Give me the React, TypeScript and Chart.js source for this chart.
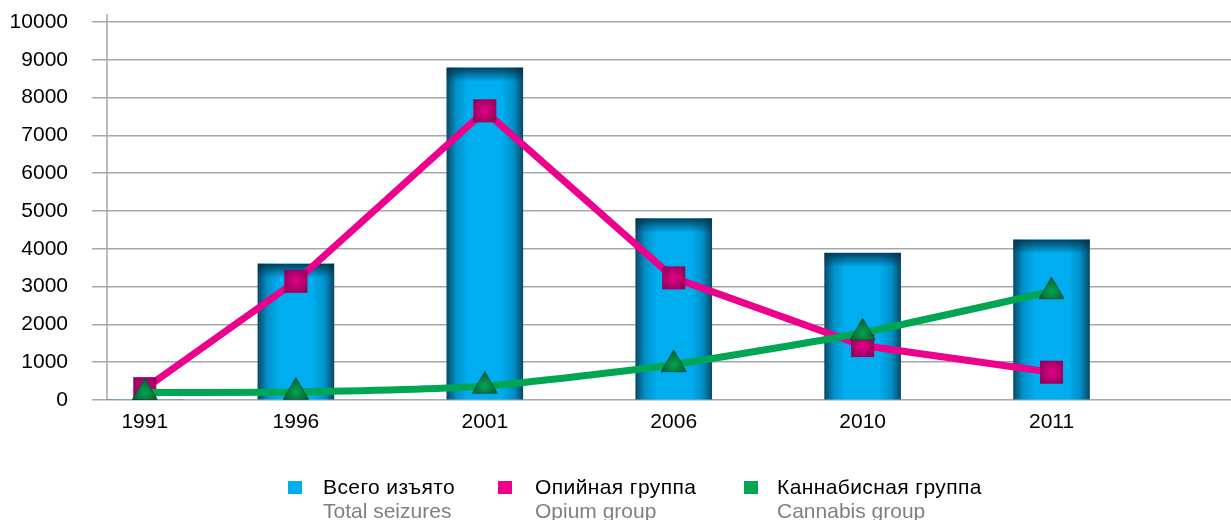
import React, { useEffect, useRef } from "react";
import { Chart, registerables } from "chart.js";

Chart.register(...registerables);

const years = ["1991", "1996", "2001", "2006", "2010", "2011"];
const yearPositions = [0.2, 1, 2, 3, 4, 5];
const totalSeizures = [0, 3600, 8790, 4800, 3890, 4240];
const opiumGroup = [300, 3140, 7650, 3230, 1440, 735];
const cannabisGroup = [200, 210, 370, 940, 1780, 2870];
const yTicks = [0, 1000, 2000, 3000, 4000, 5000, 6000, 7000, 8000, 9000, 10000];

const legendItems = [
  { ru: "Всего изъято", en: "Total seizures", color: "#00aeef" },
  { ru: "Опийная группа", en: "Opium group", color: "#ec008c" },
  { ru: "Каннабисная группа", en: "Cannabis group", color: "#00a651" },
];
const legendSquareLeft = [288, 498, 744];
const legendTextLeft = [323, 535, 777];

const FONT = "'Liberation Sans', Arial, sans-serif";

function pointGradient(ctx: any, inner: string, outer: string, fallback: string) {
  if (!ctx || ctx.type !== "data") return fallback;
  const chart = ctx.chart;
  const sx = chart.scales && chart.scales.x;
  const sy = chart.scales && chart.scales.y;
  if (!sx || !sy || !ctx.parsed) return fallback;
  const px = sx.getPixelForValue(ctx.parsed.x);
  const py = sy.getPixelForValue(ctx.parsed.y);
  if (!isFinite(px) || !isFinite(py)) return fallback;
  const g = chart.ctx.createRadialGradient(px, py, 0, px, py, 14);
  g.addColorStop(0, inner);
  g.addColorStop(1, outer);
  return g;
}

function barGradient(ctx: any) {
  if (!ctx || ctx.type !== "data") return "#00aeef";
  const chart = ctx.chart;
  const sx = chart.scales && chart.scales.x;
  if (!sx || !ctx.parsed) return "#00aeef";
  const px = sx.getPixelForValue(ctx.parsed.x);
  if (!isFinite(px)) return "#00aeef";
  const g = chart.ctx.createLinearGradient(px - 38, 0, px + 38, 0);
  g.addColorStop(0, "#0b4a68");
  g.addColorStop(0.12, "#0090c8");
  g.addColorStop(0.28, "#00aeef");
  g.addColorStop(0.72, "#00aeef");
  g.addColorStop(0.88, "#0090c8");
  g.addColorStop(1, "#0b4a68");
  return g;
}

const decorPlugin = {
  id: "decor",
  beforeDatasetsDraw(chart: any) {
    const { ctx, chartArea } = chart;
    ctx.save();
    ctx.strokeStyle = "#a6a6a6";
    ctx.lineWidth = 1.5;
    ctx.beginPath();
    ctx.moveTo(chartArea.left, chartArea.top - 8);
    ctx.lineTo(chartArea.left, chartArea.bottom);
    ctx.stroke();
    ctx.restore();
  },
  afterDatasetDraw(chart: any, args: any) {
    if (args.index !== 0) return;
    const { ctx } = chart;
    const meta = chart.getDatasetMeta(0);
    ctx.save();
    meta.data.forEach((el: any) => {
      const h = el.base - el.y;
      if (!(h > 1)) return;
      const x0 = el.x - el.width / 2;
      const depth = Math.min(14, h);
      const g = ctx.createLinearGradient(0, el.y, 0, el.y + depth);
      g.addColorStop(0, "rgba(5,45,70,0.85)");
      g.addColorStop(1, "rgba(5,45,70,0)");
      ctx.fillStyle = g;
      ctx.fillRect(x0, el.y, el.width, depth);
    });
    ctx.restore();
  },
};

export default function App() {
  const canvasRef = useRef<HTMLCanvasElement | null>(null);

  useEffect(() => {
    document.body.style.margin = "0";
    const canvas = canvasRef.current;
    if (!canvas) return;
    const chart = new Chart(canvas, {
      type: "bar",
      data: {
        datasets: [
          {
            type: "bar",
            label: "Всего изъято",
            data: years.map((_, i) => ({ x: yearPositions[i], y: totalSeizures[i] })),
            backgroundColor: barGradient as any,
            barThickness: 76,
            order: 3,
          },
          {
            type: "line",
            label: "Опийная группа",
            data: years.map((_, i) => ({ x: yearPositions[i], y: opiumGroup[i] })),
            borderColor: "#ec008c",
            borderWidth: 7,
            tension: 0,
            pointStyle: "rect",
            pointRadius: 16.3,
            pointBorderWidth: 0,
            pointBackgroundColor: ((c: any) => pointGradient(c, "#e4008a", "#92005a", "#c0007a")) as any,
            order: 2,
          },
          {
            type: "line",
            label: "Каннабисная группа",
            data: years.map((_, i) => ({ x: yearPositions[i], y: cannabisGroup[i] })),
            borderColor: "#00a651",
            borderWidth: 7,
            tension: 0.2,
            pointStyle: "triangle",
            pointRadius: 14.5,
            pointBorderWidth: 0.8,
            pointBorderColor: "#0b4d2c",
            pointBackgroundColor: ((c: any) => pointGradient(c, "#00a651", "#0a5a32", "#008040")) as any,
            order: 1,
          },
        ],
      },
      options: {
        responsive: false,
        animation: false,
        layout: { autoPadding: false, padding: { top: 22, right: 0, left: 0, bottom: 0 } },
        plugins: {
          legend: { display: false },
          tooltip: { enabled: false },
        },
        scales: {
          x: {
            type: "linear",
            min: 0,
            max: 5.95,
            offset: false,
            grid: { display: false, drawTicks: false },
            border: { display: false },
            afterBuildTicks: (s: any) => {
              s.ticks = yearPositions.map((v) => ({ value: v }));
            },
            afterFit: (s: any) => {
              s.height = 120;
              s.paddingLeft = 0;
              s.paddingRight = 0;
            },
            ticks: {
              autoSkip: false,
              maxRotation: 0,
              padding: 10,
              color: "#000",
              font: { family: FONT, size: 21 },
              callback: (v: any) => years[yearPositions.indexOf(Number(v))] ?? "",
            },
          },
          y: {
            min: 0,
            max: 10000,
            afterBuildTicks: (s: any) => {
              s.ticks = yTicks.map((v) => ({ value: v }));
            },
            afterFit: (s: any) => {
              s.width = 107;
              s.paddingTop = 0;
              s.paddingBottom = 0;
            },
            grid: {
              color: "#a8a8a8",
              lineWidth: 1.5,
              drawTicks: true,
              tickLength: 15,
            },
            border: { display: false },
            ticks: {
              padding: 24,
              color: "#000",
              font: { family: FONT, size: 21 },
              callback: (v: any) => String(v),
            },
          },
        },
      },
      plugins: [decorPlugin],
    });
    return () => chart.destroy();
  }, []);

  return (
    <div style={{ position: "absolute", left: 0, top: 0, width: 1231, height: 520, background: "#fff", overflow: "hidden" }}>
      <canvas ref={canvasRef} width={1231} height={520} style={{ display: "block" }} />
      {legendItems.map((it, i) => (
        <React.Fragment key={i}>
          <div
            style={{
              position: "absolute",
              left: legendSquareLeft[i],
              top: 481,
              width: 14,
              height: 13,
              background: it.color,
            }}
          />
          <div
            style={{
              position: "absolute",
              left: legendTextLeft[i],
              top: 475,
              fontFamily: FONT,
              fontSize: 21,
              lineHeight: "24px",
              whiteSpace: "nowrap",
            }}
          >
            <div style={{ color: "#000", letterSpacing: "0.4px" }}>{it.ru}</div>
            <div style={{ color: "#808080" }}>{it.en}</div>
          </div>
        </React.Fragment>
      ))}
    </div>
  );
}
